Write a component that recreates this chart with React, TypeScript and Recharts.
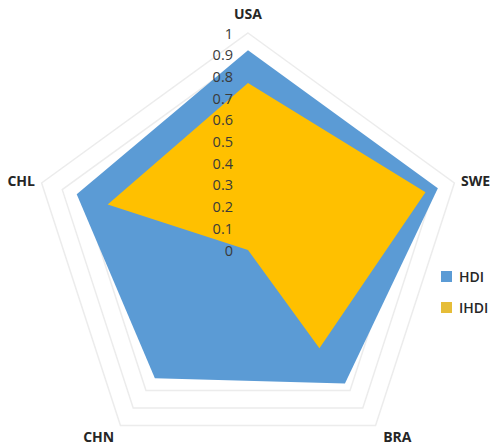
import React from "react";
import { RadarChart, Radar, PolarGrid, PolarAngleAxis, PolarRadiusAxis, Legend } from "recharts";

// Countries, clockwise from the top
const countries = ["USA", "SWE", "BRA", "CHN", "CHL"];
const hdiValues = [0.92, 0.92, 0.76, 0.73, 0.83];
const ihdiValues = [0.77, 0.86, 0.56, 0, 0.68];
const radiusTicks = [0, 0.1, 0.2, 0.3, 0.4, 0.5, 0.6, 0.7, 0.8, 0.9, 1];
const seriesNames = ["HDI", "IHDI"];
const seriesColors = ["#5b9bd5", "#ffc000"];
const legendColors = ["#5b9bd5", "#e6bd38"];

const data = countries.map((c, i) => ({ country: c, HDI: hdiValues[i], IHDI: ihdiValues[i] }));

const W = 504;
const H = 445;
const CX = 248;
const CY = 250;
const OUTER = 217;
const FONT = "'Open Sans', 'Noto Sans', sans-serif";

// Category labels sit outside the outer ring; side labels hug the ring
// with start/end anchoring, the others are centred.
const AngleTick = (props: any) => {
  const angle = props.payload.coordinate;
  const rad = (angle * Math.PI) / 180;
  const c = Math.cos(rad);
  const s = Math.sin(rad);
  const side = Math.abs(c) > 0.9;
  const rx = side ? 224 : 254;
  const ry = s > 0.9 ? 237 : side ? 224 : 230;
  const x = CX + c * rx;
  const y = CY - s * ry;
  const anchor = side ? (c > 0 ? "start" : "end") : "middle";
  return (
    <text x={x} y={y} textAnchor={anchor} dominantBaseline="central" fontFamily={FONT} fontWeight={700} fontSize={14} fill="#262626">
      {props.payload.value}
    </text>
  );
};

const RadiusTick = (props: any) => {
  const { x, y, payload } = props;
  return (
    <text x={x - 15} y={y} textAnchor="end" dominantBaseline="central" fontFamily={FONT} fontSize={14.5} fill="#3a3a3a">
      {payload.value}
    </text>
  );
};

const LegendBox = () => (
  <div style={{ fontFamily: FONT }}>
    {seriesNames.map((name, i) => (
      <div key={name} style={{ display: "flex", alignItems: "center", height: 31 }}>
        <span style={{ display: "inline-block", width: 11, height: 11, background: legendColors[i], marginRight: 7 }} />
        <span style={{ fontSize: 14, fontWeight: 600, color: "#262626" }}>{name}</span>
      </div>
    ))}
  </div>
);

export default function App() {
  return (
    <div style={{ position: "absolute", left: 0, top: 0, width: W, height: H, background: "#fff" }}>
      <RadarChart width={W} height={H} data={data} cx={CX} cy={CY} outerRadius={OUTER} margin={{ top: 0, right: 0, bottom: 0, left: 0 }}>
        <PolarGrid gridType="polygon" radialLines={false} stroke="#ececec" strokeWidth={1.5} />
        <PolarAngleAxis dataKey="country" tick={AngleTick} axisLine={false} tickLine={false} />
        <PolarRadiusAxis
          angle={90}
          domain={[0, 1]}
          ticks={radiusTicks as any}
          tick={RadiusTick}
          axisLine={false}
          tickLine={false}
        />
        <Radar name={seriesNames[0]} dataKey="HDI" fill={seriesColors[0]} fillOpacity={1} stroke="none" isAnimationActive={false} />
        <Radar name={seriesNames[1]} dataKey="IHDI" fill={seriesColors[1]} fillOpacity={1} stroke="none" isAnimationActive={false} />
        <Legend content={LegendBox} wrapperStyle={{ position: "absolute", left: 441, top: 261, width: 60 }} />
      </RadarChart>
    </div>
  );
}
